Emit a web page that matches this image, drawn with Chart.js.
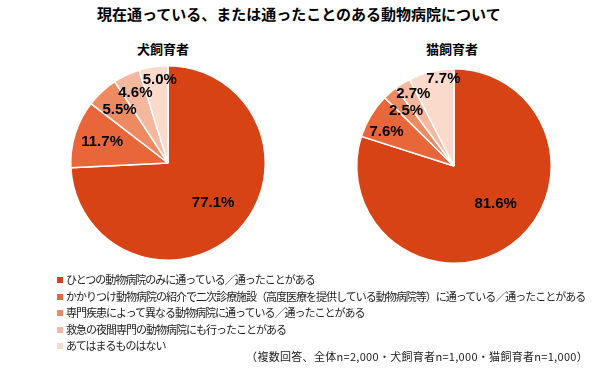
<!DOCTYPE html>
<html lang="ja">
<head>
<meta charset="utf-8">
<script src="https://cdn.jsdelivr.net/npm/chart.js@4.4.1/dist/chart.umd.min.js"></script>
<style>
  html, body { margin:0; padding:0; background:#fff; }
  #wrap { position:relative; width:600px; height:372px; overflow:hidden; font-family:"Noto Sans CJK JP", sans-serif; color:#000; }
  .abs { position:absolute; white-space:nowrap; }
  #title { left:97px; top:6px; font-size:15px; font-weight:bold; line-height:16px; }
  .sub { font-size:13px; font-weight:bold; line-height:14px; width:120px; text-align:center; top:42px; }
  canvas { position:absolute; }
  .leg { left:57px; font-size:11px; line-height:12px; letter-spacing:-1px; color:#222; }
  .leg i { display:inline-block; width:6px; height:6px; margin-right:3px; vertical-align:1px; }
  #note { right:12px; top:350px; font-size:11px; line-height:13px; letter-spacing:0.3px; color:#222; }
</style>
</head>
<body>
<div id="wrap">
  <div id="title" class="abs"></div>
  <div id="subDog" class="abs sub" style="left:103px"></div>
  <div id="subCat" class="abs sub" style="left:392px"></div>
  <canvas id="dog" width="220" height="220" style="left:58px;top:53px"></canvas>
  <canvas id="cat" width="220" height="220" style="left:344px;top:56px"></canvas>
  <div id="legend"></div>
  <div id="note" class="abs"></div>
</div>
<script>
const titleText = '現在通っている、または通ったことのある動物病院について';
const groupNames = ['犬飼育者', '猫飼育者'];
const categories = [
  'ひとつの動物病院のみに通っている／通ったことがある',
  'かかりつけ動物病院の紹介で二次診療施設（高度医療を提供している動物病院等）に通っている／通ったことがある',
  '専門疾患によって異なる動物病院に通っている／通ったことがある',
  '救急の夜間専門の動物病院にも行ったことがある',
  'あてはまるものはない'
];
const dogValues = [77.1, 11.7, 5.5, 4.6, 5.0];
const catValues = [81.6, 7.6, 2.5, 2.7, 7.7];
const noteText = '（複数回答、全体n=2,000・犬飼育者n=1,000・猫飼育者n=1,000）';

const sliceColors = ['#D84315', '#E9663A', '#EE8A62', '#F5B89E', '#FADACB'];

document.getElementById('title').textContent = titleText;
document.getElementById('subDog').textContent = groupNames[0];
document.getElementById('subCat').textContent = groupNames[1];
document.getElementById('note').textContent = noteText;

const legendTops = [273, 289.5, 306, 322.5, 339];
const legend = document.getElementById('legend');
categories.forEach((c, i) => {
  const d = document.createElement('div');
  d.className = 'abs leg';
  d.style.top = legendTops[i] + 'px';
  const sw = document.createElement('i');
  sw.style.background = sliceColors[i];
  d.appendChild(sw);
  d.appendChild(document.createTextNode(c));
  legend.appendChild(d);
});

const sliceLabels = {
  id: 'sliceLabels',
  afterDatasetsDraw(chart, args, opts) {
    const ctx = chart.ctx;
    const meta = chart.getDatasetMeta(0);
    const vals = chart.data.datasets[0].data;
    ctx.save();
    ctx.font = 'bold 15px "Liberation Sans", Arial, sans-serif';
    ctx.fillStyle = '#000';
    ctx.textAlign = 'center';
    ctx.textBaseline = 'middle';
    meta.data.forEach((arc, i) => {
      const p = arc.getProps(['x', 'y', 'startAngle', 'endAngle', 'outerRadius'], true);
      const mid = (p.startAngle + p.endAngle) / 2 + opts.angleOffsets[i] * Math.PI / 180;
      const r = p.outerRadius * opts.radii[i];
      ctx.fillText(vals[i].toFixed(1) + '%', p.x + Math.cos(mid) * r, p.y + Math.sin(mid) * r);
    });
    ctx.restore();
  }
};

function makePie(id, values, radii, angleOffsets) {
  return new Chart(document.getElementById(id), {
    type: 'pie',
    data: {
      labels: categories,
      datasets: [{
        data: values,
        backgroundColor: sliceColors,
        borderColor: '#fff',
        borderWidth: 1.5,
        hoverOffset: 0
      }]
    },
    options: {
      responsive: false,
      animation: false,
      layout: { padding: 12 },
      plugins: {
        legend: { display: false },
        tooltip: { enabled: false },
        sliceLabels: { radii, angleOffsets }
      }
    },
    plugins: [sliceLabels]
  });
}

makePie('dog', dogValues, [0.62, 0.71, 0.74, 0.80, 0.86], [-2, 0, 0.5, 0.5, 3]);
makePie('cat', catValues, [0.58, 0.78, 0.75, 0.85, 0.90], [-11.5, -4, 0, 2.4, 6.6]);
</script>
</body>
</html>
